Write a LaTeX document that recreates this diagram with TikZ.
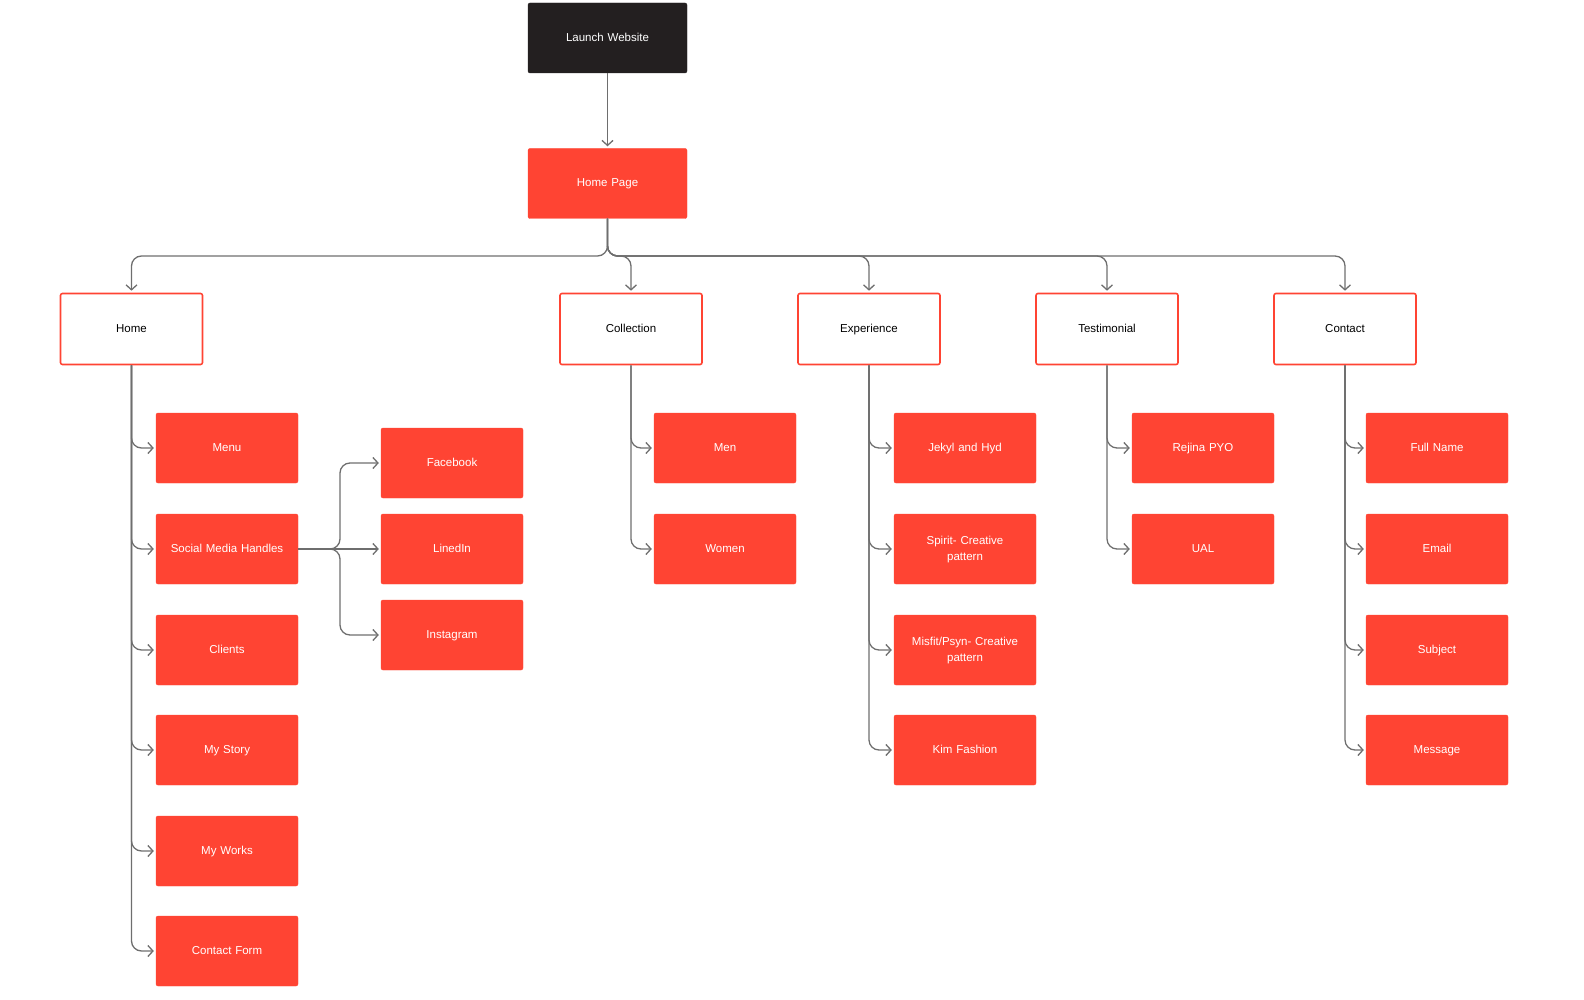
\documentclass[tikz,border=0pt]{standalone}
\usepackage{fontspec}
\setmainfont{Liberation Sans}
\usetikzlibrary{arrows.meta}
\definecolor{tomato}{HTML}{FF4433}
\definecolor{ink}{HTML}{231F20}
\definecolor{wire}{HTML}{6E6E6E}

\begin{document}
\begin{tikzpicture}[x=1pt, y=-1pt,
    box/.style={rectangle, rounded corners=2pt, minimum width=142pt, minimum height=70pt,
      text width=132pt, align=center, font=\fontsize{11.5}{16}\selectfont,
      execute at begin node=\strut, execute at end node=\strut},
    leaf/.style={box, fill=tomato, draw=tomato, text=white},
    section/.style={box, fill=white, draw=tomato, line width=1.6pt, text=black, minimum height=71pt},
    root/.style={box, fill=ink, draw=ink, text=white, minimum width=159pt},
    link/.style={draw=wire, line width=1.3pt, rounded corners=10pt,
      -{Straight Barb[length=5pt,width=11pt]}, shorten >=2pt}]
    \useasboundingbox (0,0) rectangle (1584,1000);

    % top of the tree
    \node[root] (launch) at (607.5,38) {Launch Website};
    \node[leaf, minimum width=159pt] (homepage) at (607.5,183.5) {Home Page};
    \coordinate (bus) at (607.5,256);

    % sections
    \foreach \name/\x/\txt in {home/131.5/Home, collection/631/Collection, experience/869/Experience,
        testimonial/1107/Testimonial, contact/1345/Contact}
      \node[section] (\name) at (\x,329) {\txt};

    % pages under each section
    \foreach \name/\y/\txt in {menu/448/Menu, social/549/Social Media Handles, clients/650/Clients,
        story/750/My Story, works/851/My Works, form/951/Contact Form}
      \node[leaf] (\name) at (227,\y) {\txt};
    \foreach \name/\y/\txt in {facebook/463/Facebook, linkedin/549/LinedIn, instagram/635/Instagram}
      \node[leaf] (\name) at (452,\y) {\txt};
    \foreach \name/\y/\txt in {men/448/Men, women/549/Women}
      \node[leaf] (\name) at (725,\y) {\txt};
    \foreach \name/\y/\txt in {jekyl/448/Jekyl and Hyd, spirit/549/{Spirit- Creative\\pattern},
        misfit/650/{Misfit/Psyn- Creative\\pattern}, kim/750/Kim Fashion}
      \node[leaf] (\name) at (965,\y) {\txt};
    \foreach \name/\y/\txt in {rejina/448/Rejina PYO, ual/549/UAL}
      \node[leaf] (\name) at (1203,\y) {\txt};
    \foreach \name/\y/\txt in {fullname/448/Full Name, email/549/Email, subject/650/Subject, message/750/Message}
      \node[leaf] (\name) at (1437,\y) {\txt};

    % connectors
    \draw[link] (launch) -- (homepage);
    \foreach \s in {home, collection, experience, testimonial, contact}
      \draw[link] (homepage.south) -- (bus) -| (\s.north);
    \foreach \c in {menu, social, clients, story, works, form}
      \draw[link] (home.south) |- (\c.west);
    \coordinate (fork) at (340,549);
    \draw[link] (social.east) -- (linkedin.west);
    \foreach \c in {facebook, instagram}
      \draw[link] (social.east) -- (fork) |- (\c.west);
    \foreach \c in {men, women}
      \draw[link] (collection.south) |- (\c.west);
    \foreach \c in {jekyl, spirit, misfit, kim}
      \draw[link] (experience.south) |- (\c.west);
    \foreach \c in {rejina, ual}
      \draw[link] (testimonial.south) |- (\c.west);
    \foreach \c in {fullname, email, subject, message}
      \draw[link] (contact.south) |- (\c.west);
\end{tikzpicture}
\end{document}
